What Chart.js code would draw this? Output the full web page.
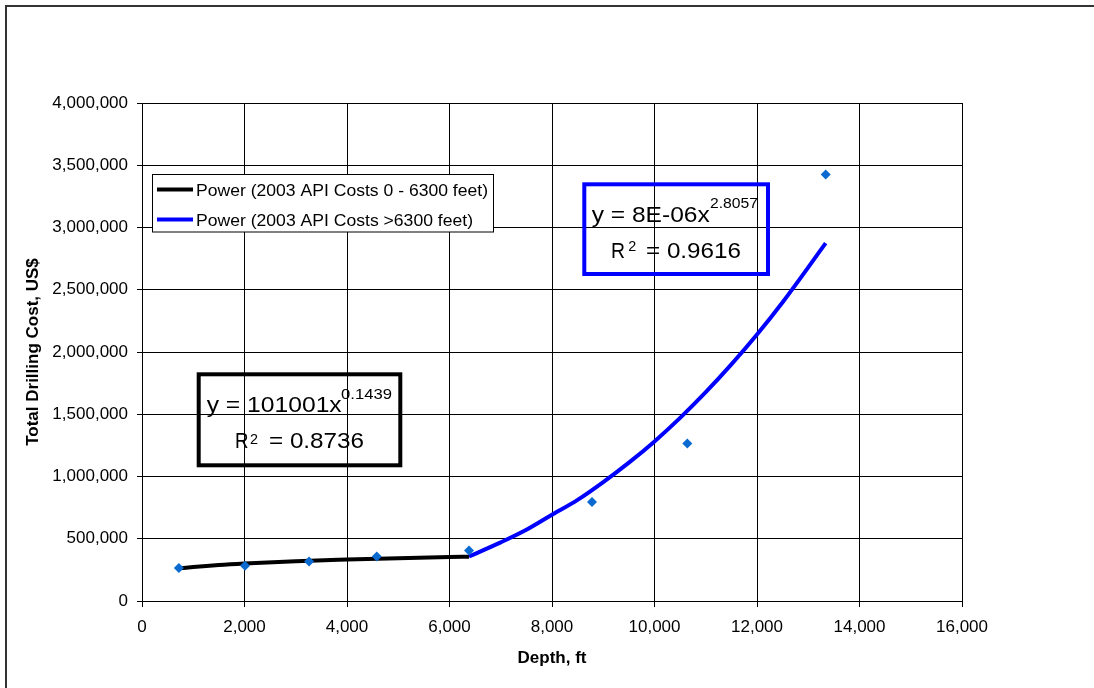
<!DOCTYPE html>
<html>
<head>
<meta charset="utf-8">
<title>Total Drilling Cost vs Depth</title>
<script src="https://cdn.jsdelivr.net/npm/chart.js@4"></script>
<style>
  html, body { margin: 0; padding: 0; background: #fff; }
  #wrap { width: 1094px; height: 688px; position: relative; }
</style>
</head>
<body>
<div id="wrap"><canvas id="chart" width="1094" height="688"></canvas></div>
<script>
// Well depth (ft) and total drilling cost (US$), 2003 API costs
const depthFt = [720, 2010, 3260, 4580, 6380, 8780, 10640, 13340];
const costUsd = [265000, 284000, 318000, 358000, 406000, 795000, 1266000, 3426000];

// Power trend, 0 - 6300 ft
const shallowTrendDepth = [720, 1000, 1500, 2000, 3000, 4000, 5000, 6000, 6380];
const shallowTrendCost  = [262000, 273000, 289000, 301000, 320000, 333000, 344000, 353000, 356000];

// Power trend, > 6300 ft
const deepTrendDepth = [6380, 7000, 7500, 8000, 8500, 9000, 9500, 10000, 10500, 11000, 11500, 12000, 12500, 13000, 13340];
const deepTrendCost  = [358000, 471000, 572000, 693000, 812000, 955000, 1111000, 1282000, 1471000, 1677000, 1900000, 2140000, 2400000, 2680000, 2875000];

// Axis ranges and tick steps
const xTicks = [0, 16000, 2000];
const yTicks = [0, 4000000, 500000];

// Trend labels and equation text
const trendLabels = ['Power (2003 API Costs 0 - 6300 feet)', 'Power (2003 API Costs >6300 feet)'];
const shallowEq = { lead: 'y = 101001x', exp: '0.1439', r2: '= 0.8736' };
const deepEq = { lead: 'y = 8E-06x', exp: '2.8057', r2: '= 0.9616' };

const FONT = "'Liberation Sans', Arial, Helvetica, sans-serif";
Chart.defaults.font.family = FONT;
Chart.defaults.color = '#000';

const toPoints = (xs, ys) => xs.map((x, i) => ({ x, y: ys[i] }));
const fmt = v => Number(v).toLocaleString('en-US');

// Draw text stretched to a given advance width
function fitText(ctx, text, x, baseline, size, width, bold) {
  ctx.font = (bold ? 'bold ' : '') + size + 'px ' + FONT;
  const m = ctx.measureText(text).width;
  ctx.save();
  ctx.translate(x, baseline);
  ctx.scale(width / m, 1);
  ctx.textBaseline = 'alphabetic';
  ctx.textAlign = 'left';
  ctx.fillStyle = '#000';
  ctx.fillText(text, 0, 0);
  ctx.restore();
}

const decorations = {
  id: 'decorations',
  beforeDraw(chart) {
    const ctx = chart.ctx;
    ctx.save();
    ctx.strokeStyle = '#333';
    ctx.lineWidth = 2;
    ctx.beginPath();
    ctx.moveTo(6, chart.height);
    ctx.lineTo(6, 6);
    ctx.lineTo(chart.width, 6);
    ctx.stroke();
    ctx.restore();
  },
  afterDraw(chart) {
    const ctx = chart.ctx;
    ctx.save();

    // Legend for the two trend lines
    ctx.fillStyle = '#fff';
    ctx.fillRect(152.5, 174.5, 341, 57.5);
    ctx.strokeStyle = '#000';
    ctx.lineWidth = 1;
    ctx.strokeRect(152.5, 174.5, 341, 57.5);
    const rows = [
      { ds: chart.data.datasets[1], y: 189.5, w: 292 },
      { ds: chart.data.datasets[2], y: 219.5, w: 277 }
    ];
    rows.forEach(r => {
      ctx.strokeStyle = r.ds.borderColor;
      ctx.lineWidth = 4;
      ctx.beginPath();
      ctx.moveTo(157, r.y);
      ctx.lineTo(193, r.y);
      ctx.stroke();
      fitText(ctx, r.ds.label, 196, r.y + 6, 16.5, r.w, false);
    });

    // Equation boxes
    ctx.lineWidth = 4;
    ctx.strokeStyle = '#000';
    ctx.strokeRect(198.7, 374.3, 201.6, 91);
    fitText(ctx, shallowEq.lead, 206.7, 411.7, 21.5, 135);
    fitText(ctx, shallowEq.exp, 341, 399, 15, 51);
    fitText(ctx, 'R', 235, 448.3, 21.5, 13.5);
    fitText(ctx, '2', 250, 444, 15, 8);
    fitText(ctx, shallowEq.r2, 269, 448.3, 21.5, 95);

    ctx.strokeStyle = '#0000ff';
    ctx.strokeRect(584.3, 184.3, 183.7, 89.7);
    fitText(ctx, deepEq.lead, 591.7, 221.7, 21.5, 118);
    fitText(ctx, deepEq.exp, 710, 208.3, 15, 48);
    fitText(ctx, 'R', 611, 258.3, 21.5, 14);
    fitText(ctx, '2', 628.3, 251, 15, 8);
    fitText(ctx, deepEq.r2, 646, 258.3, 21.5, 95);

    ctx.restore();
  }
};

new Chart(document.getElementById('chart'), {
  type: 'scatter',
  data: {
    datasets: [
      {
        label: 'Drilling cost',
        data: toPoints(depthFt, costUsd),
        pointStyle: 'rectRot',
        pointRadius: 5,
        pointHoverRadius: 5,
        backgroundColor: '#0a6ad0',
        borderWidth: 0,
        showLine: false,
        order: 0
      },
      {
        label: trendLabels[0],
        data: toPoints(shallowTrendDepth, shallowTrendCost),
        showLine: true,
        borderColor: '#000000',
        borderWidth: 4,
        pointRadius: 0,
        cubicInterpolationMode: 'monotone',
        order: 1
      },
      {
        label: trendLabels[1],
        data: toPoints(deepTrendDepth, deepTrendCost),
        showLine: true,
        borderColor: '#0000ff',
        borderWidth: 4,
        pointRadius: 0,
        cubicInterpolationMode: 'monotone',
        order: 1
      }
    ]
  },
  options: {
    responsive: false,
    animation: false,
    events: [],
    layout: { padding: { top: 103, right: 132, left: 0, bottom: 0 } },
    plugins: {
      legend: { display: false },
      tooltip: { enabled: false }
    },
    scales: {
      x: {
        type: 'linear',
        min: xTicks[0],
        max: xTicks[1],
        afterFit: s => { s.height = 87; },
        ticks: {
          stepSize: xTicks[2],
          padding: 10,
          font: { size: 17 },
          color: '#000',
          maxRotation: 0,
          callback: v => fmt(v)
        },
        grid: { color: '#000', lineWidth: 1, tickLength: 6, tickColor: '#000' },
        border: { display: true, color: '#000', width: 1 },
        title: {
          display: true,
          text: 'Depth, ft',
          font: { size: 17, weight: 'bold' },
          color: '#000',
          padding: { top: 0, bottom: 19 }
        }
      },
      y: {
        type: 'linear',
        min: yTicks[0],
        max: yTicks[1],
        afterFit: s => { s.width = 142; },
        ticks: {
          stepSize: yTicks[2],
          padding: 9,
          font: { size: 17 },
          color: '#000',
          callback: v => fmt(v)
        },
        grid: { color: '#000', lineWidth: 1, tickLength: 5, tickColor: '#000' },
        border: { display: true, color: '#000', width: 1 },
        title: {
          display: true,
          text: 'Total Drilling Cost, US$',
          font: { size: 17, weight: 'bold' },
          color: '#000',
          padding: { top: 23, bottom: 0 }
        }
      }
    }
  },
  plugins: [decorations]
});
</script>
</body>
</html>
